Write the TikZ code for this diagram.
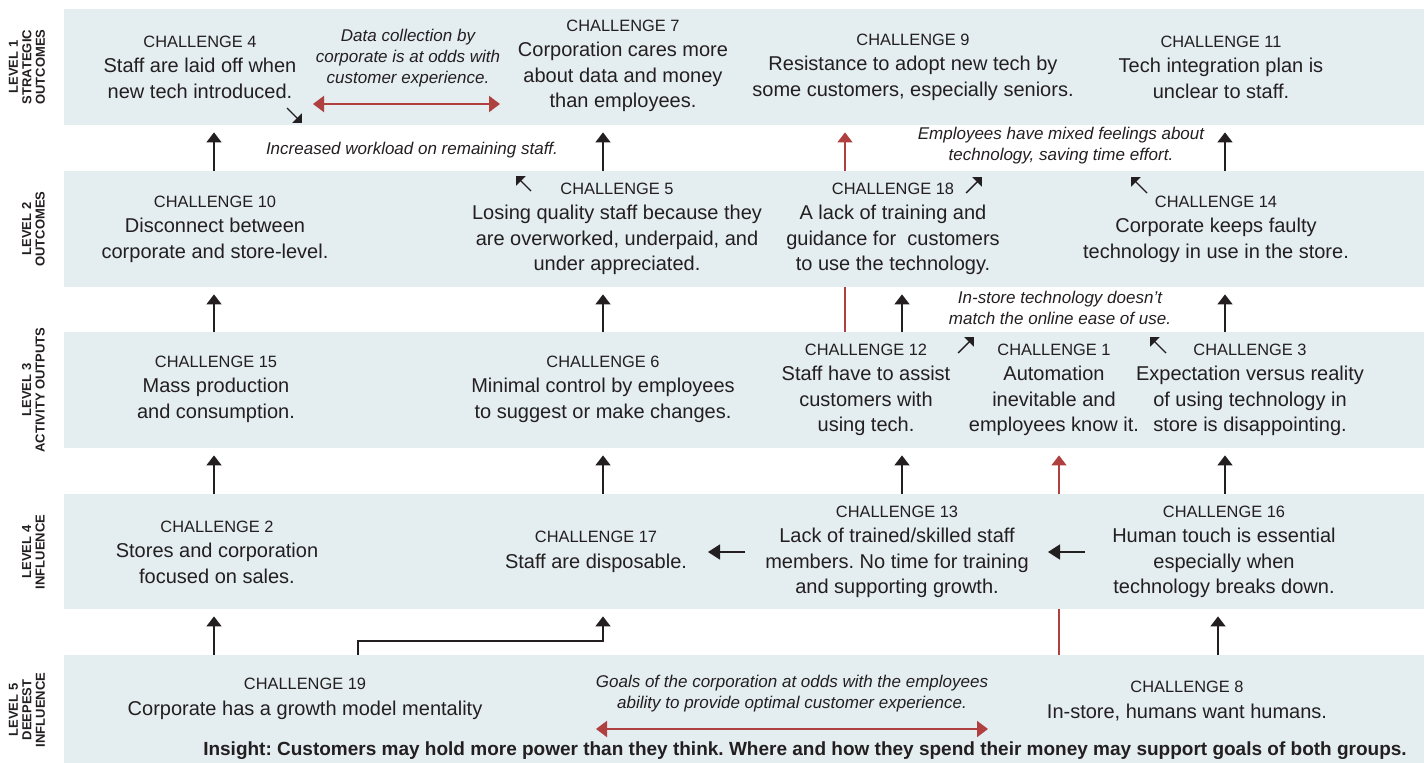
\documentclass[tikz,border=0pt]{standalone}
\usepackage{fontspec}
\setmainfont{Liberation Sans}
\usetikzlibrary{arrows.meta}
\frenchspacing

\definecolor{bandfill}{HTML}{E4EDF0}
\definecolor{ink}{HTML}{231F20}
\definecolor{tension}{HTML}{B0403F}

\newcommand\hdr[1]{{\fontsize{16.4}{25.5}\selectfont CHALLENGE #1}}

\tikzset{
  levelband/.style={fill=bandfill, draw=none, minimum width=1360pt, anchor=north west, inner sep=0pt},
  chal/.style={align=center, text=ink, font=\fontsize{20}{25.5}\selectfont, inner sep=0pt},
  note/.style={align=center, text=ink, font=\fontsize{17}{21}\selectfont\itshape, inner sep=0pt},
  lvl/.style={rotate=90, align=center, text=ink, font=\fontsize{13}{13.5}\selectfont\bfseries, inner sep=0pt},
  up/.style={draw=ink, line width=1.6pt, -{Triangle[width=15pt,length=10pt]}},
  redup/.style={draw=tension, line width=1.6pt, -{Triangle[width=15pt,length=10pt]}},
  redline/.style={draw=tension, line width=1.6pt},
  side/.style={draw=ink, line width=1.6pt, -{Triangle[width=15pt,length=12pt]}},
  diag/.style={draw=ink, line width=1.4pt, -{Triangle[width=13pt,length=7pt]}},
  odds/.style={draw=tension, line width=2pt, {Triangle[width=16pt,length=11pt]}-{Triangle[width=16pt,length=11pt]}},
}

\begin{document}
\begin{tikzpicture}[x=1pt,y=-1pt]
\useasboundingbox (0,0) rectangle (1428,763);

% level bands
\node[levelband, minimum height=116pt] (b1) at (64,9) {};
\node[levelband, minimum height=116pt] (b2) at (64,171) {};
\node[levelband, minimum height=116pt] (b3) at (64,332) {};
\node[levelband, minimum height=115pt] (b4) at (64,494) {};
\node[levelband, minimum height=108pt] (b5) at (64,655) {};

% level labels
\node[lvl] (l1) at (27,67) {LEVEL 1\\STRATEGIC\\OUTCOMES};
\node[lvl] (l2) at (33.5,229) {LEVEL 2\\OUTCOMES};
\node[lvl] (l3) at (33.5,390) {LEVEL 3\\ACTIVITY OUTPUTS};
\node[lvl] (l4) at (33.5,552) {LEVEL 4\\INFLUENCE};
\node[lvl] (l5) at (27,710) {LEVEL 5\\DEEPEST\\INFLUENCE};

% level 1
\node[chal] (c4) at (200,67) {\hdr{4}\\Staff are laid off when\\new tech introduced.};
\node[chal] (c7) at (623,66) {\hdr{7}\\Corporation cares more\\about data and money\\than employees.};
\node[chal] (c9) at (913,67) {\hdr{9}\\Resistance to adopt new tech by\\some customers, especially seniors.};
\node[chal] (c11) at (1221,67) {\hdr{11}\\Tech integration plan is\\unclear to staff.};
\node[note] (n1) at (408,58) {Data collection by\\corporate is at odds with\\customer experience.};

% notes between levels 1 and 2
\node[note] (n2) at (412,150) {Increased workload on remaining staff.};
\node[note] (n3) at (1061,146) {Employees have mixed feelings about\\technology, saving time effort.};

% level 2
\node[chal] (c10) at (215,229) {\hdr{10}\\Disconnect between\\corporate and store-level.};
\node[chal] (c5) at (617,229) {\hdr{5}\\Losing quality staff because they\\are overworked, underpaid, and\\under appreciated.};
\node[chal] (c18) at (893,229) {\hdr{18}\\A lack of training and\\guidance for\ \ customers\\to use the technology.};
\node[chal] (c14) at (1216,229) {\hdr{14}\\Corporate keeps faulty\\technology in use in the store.};

% note between levels 2 and 3
\node[note] (n4) at (1060,308) {In-store technology doesn't\\match the online ease of use.};

% level 3
\node[chal] (c15) at (216,389) {\hdr{15}\\Mass production\\and consumption.};
\node[chal] (c6) at (603,389) {\hdr{6}\\Minimal control by employees\\to suggest or make changes.};
\node[chal] (c12) at (866,390) {\hdr{12}\\Staff have to assist\\customers with\\using tech.};
\node[chal] (c1) at (1054,390) {\hdr{1}\\Automation\\inevitable and\\employees know it.};
\node[chal] (c3) at (1250,390) {\hdr{3}\\Expectation versus reality\\of using technology in\\store is disappointing.};

% level 4
\node[chal] (c2) at (217,552) {\hdr{2}\\Stores and corporation\\focused on sales.};
\node[chal] (c17) at (596,552) {\hdr{17}\\Staff are disposable.};
\node[chal] (c13) at (897,552) {\hdr{13}\\Lack of trained/skilled staff\\members. No time for training\\and supporting growth.};
\node[chal] (c16) at (1224,552) {\hdr{16}\\Human touch is essential\\especially when\\technology breaks down.};

% level 5
\node[chal] (c19) at (305,699) {\hdr{19}\\Corporate has a growth model mentality};
\node[note] (n5) at (792,694) {Goals of the corporation at odds with the employees\\ability to provide optimal customer experience.};
\node[chal] (c8) at (1187,701) {\hdr{8}\\In-store, humans want humans.};
\node[text=ink, font=\fontsize{19}{20}\selectfont\bfseries, inner sep=0pt] (insight) at (805,751)
  {Insight: Customers may hold more power than they think. Where and how they spend their money may support goals of both groups.};

% arrow columns
\coordinate (colL) at (214,0);
\coordinate (colM) at (603,0);
\coordinate (colT) at (902,0);
\coordinate (colR) at (1225,0);
\coordinate (redA) at (845,0);
\coordinate (redB) at (1059,0);
\coordinate (colE) at (358,0);

% level 2 -> level 1
\draw[up] (b2.north -| colL) -- ([yshift=-7pt]b1.south -| colL);
\draw[up] (b2.north -| colM) -- ([yshift=-7pt]b1.south -| colM);
\draw[redup] (b2.north -| redA) -- ([yshift=-7pt]b1.south -| redA);
\draw[up] (b2.north -| colR) -- ([yshift=-7pt]b1.south -| colR);

% level 3 -> level 2
\draw[up] (b3.north -| colL) -- ([yshift=-7pt]b2.south -| colL);
\draw[up] (b3.north -| colM) -- ([yshift=-7pt]b2.south -| colM);
\draw[redline] (b3.north -| redA) -- (b2.south -| redA);
\draw[up] (b3.north -| colT) -- ([yshift=-7pt]b2.south -| colT);
\draw[up] (b3.north -| colR) -- ([yshift=-7pt]b2.south -| colR);

% level 4 -> level 3
\draw[up] (b4.north -| colL) -- ([yshift=-7pt]b3.south -| colL);
\draw[up] (b4.north -| colM) -- ([yshift=-7pt]b3.south -| colM);
\draw[up] (b4.north -| colT) -- ([yshift=-7pt]b3.south -| colT);
\draw[redup] (b4.north -| redB) -- ([yshift=-7pt]b3.south -| redB);
\draw[up] (b4.north -| colR) -- ([yshift=-7pt]b3.south -| colR);

% level 5 -> level 4
\draw[up] (b5.north -| colL) -- ([yshift=-7pt]b4.south -| colL);
\draw[up] (b5.north -| colE) -- ++(0,-14) -| ([yshift=-7pt]b4.south -| colM);
\draw[redline] (b5.north -| redB) -- (b4.south -| redB);
\draw[up] ([xshift=-7pt]b5.north -| colR) -- ([xshift=-7pt,yshift=-7pt]b4.south -| colR);

% sideways links inside level 4
\coordinate (s1a) at (745,552);
\coordinate (s1b) at (708,552);
\coordinate (s2a) at (1085,552);
\coordinate (s2b) at (1048,552);
\draw[side] (s1a) -- (s1b);
\draw[side] (s2a) -- (s2b);

% small pointers towards the notes
\coordinate (d1a) at (287,108); \coordinate (d1b) at (302,123);
\coordinate (d2a) at (531,191); \coordinate (d2b) at (516,176);
\coordinate (d3a) at (966,193); \coordinate (d3b) at (982,177);
\coordinate (d4a) at (1147,193); \coordinate (d4b) at (1131,177);
\coordinate (d5a) at (958,353); \coordinate (d5b) at (974,337);
\coordinate (d6a) at (1166,353); \coordinate (d6b) at (1150,337);
\draw[diag] (d1a) -- (d1b);
\draw[diag] (d2a) -- (d2b);
\draw[diag] (d3a) -- (d3b);
\draw[diag] (d4a) -- (d4b);
\draw[diag] (d5a) -- (d5b);
\draw[diag] (d6a) -- (d6b);

% tensions
\coordinate (o1a) at (313,104); \coordinate (o1b) at (500,104);
\coordinate (o2a) at (596,729); \coordinate (o2b) at (988,729);
\draw[odds] (o1a) -- (o1b);
\draw[odds] (o2a) -- (o2b);
\end{tikzpicture}
\end{document}
